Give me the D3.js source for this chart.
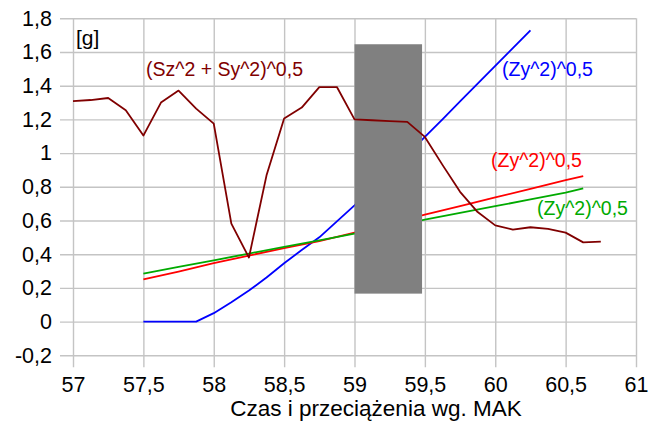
<!DOCTYPE html>
<html>
<head>
<meta charset="utf-8">
<script src="https://cdn.jsdelivr.net/npm/d3@7"></script>
<style>
  body { margin: 0; background: #fff; }
  text { font-family: "Liberation Sans", Arial, sans-serif; }
</style>
</head>
<body>
<div id="chart"></div>
<script>
// data
var xTicks = [57, 57.5, 58, 58.5, 59, 59.5, 60, 60.5, 61];
var yTicks = [-0.2, 0, 0.2, 0.4, 0.6, 0.8, 1, 1.2, 1.4, 1.6, 1.8];

// (Sz^2 + Sy^2)^0,5
var sTime = [57, 57.125, 57.25, 57.375, 57.5, 57.625, 57.75, 57.875, 58, 58.125, 58.25, 58.375,
  58.5, 58.625, 58.75, 58.875, 59, 59.125, 59.25, 59.375, 59.5, 59.625, 59.75, 59.875,
  60, 60.125, 60.25, 60.375, 60.5, 60.625, 60.75];
var sValues = [1.309, 1.315, 1.327, 1.254, 1.104, 1.30, 1.371, 1.264, 1.175, 0.581, 0.38, 0.868,
  1.205, 1.270, 1.392, 1.392, 1.20, 1.195, 1.19, 1.185, 1.096, 0.93, 0.77, 0.65,
  0.571, 0.546, 0.56, 0.55, 0.528, 0.47, 0.475];

// (Zy^2)^0,5 blue
var blueTime = [57.5, 57.625, 57.75, 57.875, 58, 58.125, 58.25, 58.375, 58.5, 58.625, 58.75,
  58.875, 59, 59.125, 59.25, 59.375, 59.5, 59.625, 59.75, 59.875, 60, 60.125, 60.25];
var blueValues = [0, 0, 0, 0, 0.05, 0.115, 0.184, 0.262, 0.346, 0.425, 0.50,
  0.595, 0.69, 0.79, 0.89, 0.99, 1.096, 1.20, 1.307, 1.412, 1.518, 1.623, 1.729];

// (Zy^2)^0,5 red
var redTime = [57.5, 57.75, 58, 58.25, 58.5, 58.75, 59, 59.25, 59.5, 59.75, 60, 60.25, 60.5, 60.625];
var redValues = [0.251, 0.297, 0.347, 0.392, 0.436, 0.478, 0.528, 0.580, 0.635, 0.686, 0.737, 0.788, 0.839, 0.864];

// (Zy^2)^0,5 green
var greenTime = [57.5, 57.75, 58, 58.25, 58.5, 58.75, 59, 59.25, 59.5, 59.75, 60, 60.25, 60.5, 60.625];
var greenValues = [0.285, 0.325, 0.364, 0.404, 0.443, 0.482, 0.522, 0.562, 0.605, 0.645, 0.685, 0.725, 0.765, 0.791];

// grey block
var blockTime = [59, 59.48];
var blockValues = [0.166, 1.646];

var svgWidth = 656;
var svgHeight = 421;
var margin = { top: 18.3, right: 20, bottom: 65.7, left: 73 };
var width = 636 - margin.left;
var height = svgHeight - margin.top - margin.bottom;

var svg = d3.select("#chart").append("svg")
  .attr("width", svgWidth)
  .attr("height", svgHeight);

var chartGroup = svg.append("g")
  .attr("transform", `translate(${margin.left}, ${margin.top})`);

var xScale = d3.scaleLinear().domain([57, 61]).range([0, width]);
var yScale = d3.scaleLinear().domain([-0.2, 1.8]).range([height, 0]);

var fmt = d => String(d).replace(".", ",");
var gridColor = "#c4c4c4";

// y axis + grid
var yAxis = chartGroup.append("g")
  .call(d3.axisLeft(yScale).tickValues(yTicks).tickFormat(fmt).tickSize(13).tickPadding(8));
yAxis.select(".domain").remove();
yAxis.selectAll("line").attr("x2", width).attr("x1", -13)
  .attr("stroke", gridColor).attr("stroke-width", 1.4);
yAxis.selectAll("text")
  .attr("font-size", "21.5px")
  .attr("fill", "#000");

// x axis + grid
var xAxis = chartGroup.append("g")
  .attr("transform", `translate(0, ${height})`)
  .call(d3.axisBottom(xScale).tickValues(xTicks).tickFormat(fmt).tickSize(12));
xAxis.select(".domain").remove();
xAxis.selectAll("line").attr("y1", -height).attr("y2", 12)
  .attr("stroke", gridColor).attr("stroke-width", 1.4);
xAxis.selectAll("text")
  .attr("y", 37)
  .attr("dy", null)
  .attr("font-size", "21.5px")
  .attr("fill", "#000");

var line = d3.line()
  .x(d => xScale(d[0]))
  .y(d => yScale(d[1]));

function drawSeries(xs, ys, color) {
  chartGroup.append("path")
    .datum(xs.map((x, i) => [x, ys[i]]))
    .attr("d", line)
    .attr("fill", "none")
    .attr("stroke", color)
    .attr("stroke-width", 1.8)
    .attr("stroke-linejoin", "round");
}

drawSeries(blueTime, blueValues, "#0000ff");
drawSeries(redTime, redValues, "#ff0000");
drawSeries(greenTime, greenValues, "#00aa00");

chartGroup.append("rect")
  .attr("x", xScale(blockTime[0]))
  .attr("y", yScale(blockValues[1]))
  .attr("width", xScale(blockTime[1]) - xScale(blockTime[0]))
  .attr("height", yScale(blockValues[0]) - yScale(blockValues[1]))
  .attr("fill", "#808080");

drawSeries(sTime, sValues, "#800000");

// labels
function label(txt, x, y, color, size) {
  svg.append("text")
    .attr("x", x)
    .attr("y", y)
    .attr("fill", color)
    .attr("font-size", size)
    .text(txt);
}
label("[g]", 76, 45, "#000", "21px");
label("(Sz^2 + Sy^2)^0,5", 146, 76, "#800000", "19.5px");
label("(Zy^2)^0,5", 502, 76, "#0000ff", "19.5px");
label("(Zy^2)^0,5", 491, 167, "#ff0000", "19.5px");
label("(Zy^2)^0,5", 537, 215, "#00aa00", "19.5px");

svg.append("text")
  .attr("x", 376)
  .attr("y", 416)
  .attr("text-anchor", "middle")
  .attr("font-size", "22.5px")
  .attr("fill", "#000")
  .text("Czas i przeciążenia wg. MAK");
</script>
</body>
</html>
